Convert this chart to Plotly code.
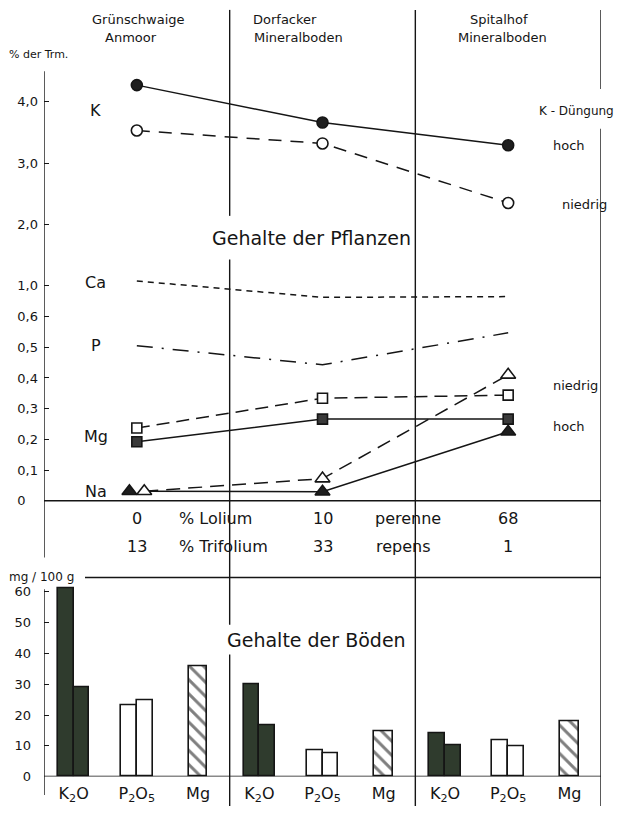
import numpy as np
import plotly.graph_objects as go

W, H = 618, 814
FONT = "DejaVu Sans"
INK = "#151515"

# ---------------- data ----------------
sites = ["Grünschwaige", "Dorfacker", "Spitalhof"]
site_sub = ["Anmoor", "Mineralboden", "Mineralboden"]

k_hoch = [4.27, 3.66, 3.29]
k_niedrig = [3.53, 3.32, 2.35]
ca = [1.08, 0.85, 0.86]
p = [0.505, 0.443, 0.547]
mg_niedrig = [0.237, 0.334, 0.344]
mg_hoch = [0.192, 0.266, 0.266]
na_niedrig = [0.031, 0.072, 0.41]
na_hoch = [0.031, 0.029, 0.225]

lolium = [0, 10, 68]
trifolium = [13, 33, 1]

k2o_a = [61, 30, 14]
k2o_b = [29, 16.7, 10.1]
p2o5_a = [23, 8.7, 11.8]
p2o5_b = [24.9, 7.6, 9.7]
mg_soil = [35.9, 14.6, 17.9]

top_ticks = [0, 0.1, 0.2, 0.3, 0.4, 0.5, 0.6, 1.0, 2.0, 3.0, 4.0]
top_ticktext = ["0\u00a0\u00a0\u00a0", "0,1", "0,2", "0,3", "0,4", "0,5", "0,6", "1,0", "2,0", "3,0", "4,0"]
bot_ticks = [0, 10, 20, 30, 40, 50, 60]
soil_labels = ["K<sub>2</sub>O", "P<sub>2</sub>O<sub>5</sub>", "Mg"]

# ---------------- scale helpers ----------------
def T(v):
    """broken y scale of the plant panel: 0-0.6 linear, 0.6-1.0 compressed, 1-4 compressed"""
    v = np.asarray(v, dtype=float)
    out = np.interp(v, [0, 0.6, 1.0, 4.0], [0, 6, 7, 13])
    return np.where(v > 4.0, 13 + (v - 4.0) * 2.0, out)

def py(pix):
    return 1 - pix / H

def pxx(pix):
    return pix / W

xs = np.arange(len(sites))

# pixel geometry
ZERO_PX, UNIT_PX = 505.7, 31.0
TOP_BOTTOM_PX = 570
B0_PX, B_UNIT = 784.3, 3.11
B_TOP_PX = 583

fig = go.Figure()

# ---------------- plant panel ----------------
def line_trace(y, dash, symbol=None, fill=None, xoff=None, size=10):
    x = xs if xoff is None else xs + np.asarray(xoff)
    mode = "lines+markers" if symbol else "lines"
    tr = go.Scatter(x=x, y=T(y), mode=mode, xaxis="x", yaxis="y",
                    line=dict(color=INK, width=1.5, dash=dash), showlegend=False,
                    hoverinfo="skip")
    if symbol:
        tr.marker = dict(symbol=symbol, size=size, color=fill,
                         line=dict(color=INK, width=1.6))
    return tr

fig.add_trace(line_trace(ca, "6px,5px"))
fig.add_trace(line_trace(p, "16px,9px,2px,9px"))
fig.add_trace(line_trace(k_niedrig, "13px,9px", "circle", "white", size=11))
fig.add_trace(line_trace(k_hoch, "solid", "circle", "#1e1e1e", size=11))
fig.add_trace(line_trace(mg_niedrig, "13px,7px", "square", "white"))
fig.add_trace(line_trace(mg_hoch, "solid", "square", "#3a3a3a"))
# Na: lines start at the open triangle, filled triangle shifted left at first site
na_off_open = [0.04, 0, 0]
na_off_fill = [-0.04, 0, 0]
fig.add_trace(go.Scatter(x=xs + np.array(na_off_open), y=T(na_hoch), mode="lines",
                         line=dict(color=INK, width=1.5), showlegend=False, hoverinfo="skip"))
fig.add_trace(line_trace(na_niedrig, "14px,8px", "triangle-up", "white", xoff=na_off_open, size=13))
fig.add_trace(go.Scatter(x=xs + np.array(na_off_fill), y=T(na_hoch), mode="markers",
                         marker=dict(symbol="triangle-up", size=13, color="#1e1e1e",
                                     line=dict(color=INK, width=1.5)),
                         showlegend=False, hoverinfo="skip"))

# ---------------- soil panel ----------------
off_k, off_p, off_m = -0.34, 0.0, 0.33
bw, bwm = 0.085, 0.10
DARK = "#2f3b2d"

def bars(vals, offs, color, width, pattern=None):
    return go.Bar(x=xs + offs, y=vals, width=width, xaxis="x2", yaxis="y2",
                  marker=dict(color=color, line=dict(color=INK, width=1.6),
                              pattern=pattern),
                  showlegend=False, hoverinfo="skip")

fig.add_trace(bars(k2o_a, off_k - bw / 2, DARK, bw))
fig.add_trace(bars(k2o_b, off_k + bw / 2, DARK, bw))
fig.add_trace(bars(p2o5_a, off_p - bw / 2, "white", bw))
fig.add_trace(bars(p2o5_b, off_p + bw / 2, "white", bw))
fig.add_trace(bars(mg_soil, off_m, "white", bwm,
                   pattern=dict(shape="\\", size=10, solidity=0.3, fgcolor="#000000",
                                bgcolor="white", fillmode="overlay")))

soil_tickvals = [x + o for x in xs for o in (off_k, off_p, off_m)]
soil_ticktext = soil_labels * len(sites)

# ---------------- axes ----------------
xr = [-0.5, 2.5]
xdom = [44 / W, 601 / W]
top_range = [-(TOP_BOTTOM_PX - ZERO_PX) / UNIT_PX, ZERO_PX / UNIT_PX]
bot_range = [0, (B0_PX - B_TOP_PX) / B_UNIT]
tf = dict(size=13, family=FONT, color=INK)

fig.update_layout(
    width=W, height=H, margin=dict(l=0, r=0, t=0, b=0),
    paper_bgcolor="white", plot_bgcolor="rgba(0,0,0,0)",
    font=dict(family=FONT, color=INK, size=13),
    barmode="overlay", bargap=0,
    xaxis=dict(domain=xdom, range=xr, visible=False, anchor="y"),
    yaxis=dict(domain=[py(TOP_BOTTOM_PX), 1], range=top_range, showgrid=False, zeroline=False,
               showline=False, tickmode="array", tickvals=T(top_ticks).tolist(),
               ticktext=top_ticktext, ticks="inside", ticklen=5, tickwidth=1.4, tickcolor=INK,
               ticklabelstandoff=5, tickfont=tf, anchor="x"),
    xaxis2=dict(domain=xdom, range=xr, anchor="y2", showgrid=False, zeroline=False,
                showline=False, tickmode="array", tickvals=soil_tickvals,
                ticktext=soil_ticktext, ticks="", tickfont=dict(size=16, family=FONT, color=INK),
                ticklabelstandoff=5),
    yaxis2=dict(domain=[py(B0_PX), py(B_TOP_PX)], range=bot_range, showgrid=False,
                zeroline=False, showline=False, tickmode="array", tickvals=bot_ticks,
                ticktext=[str(t) for t in bot_ticks],
                ticks="inside", ticklen=5, tickwidth=1.4, tickcolor=INK,
                ticklabelstandoff=12, tickfont=tf, anchor="x2"),
)

# ---------------- frame lines ----------------
shapes = []
def vline(xd, y0p, y1p):
    shapes.append(dict(type="line", xref="x", yref="paper", x0=xd, x1=xd,
                       y0=py(y0p), y1=py(y1p), line=dict(color=INK, width=1.4)))

vline(-0.5, 72, 563)
vline(-0.5, 595, 803)
vline(0.5, 10, 218)
vline(0.5, 262, 631)
vline(0.5, 661, 814)
vline(1.5, 10, 814)
vline(2.5, 10, 90)
vline(2.5, 130, 814)
shapes.append(dict(type="line", xref="x", yref="y", x0=-0.5, x1=2.5, y0=0, y1=0,
                   line=dict(color=INK, width=1.7)))
shapes.append(dict(type="line", xref="paper", yref="paper", x0=pxx(85), x1=pxx(601),
                   y0=py(583.3), y1=py(583.3), line=dict(color=INK, width=1.4)))
shapes.append(dict(type="line", xref="x2", yref="y2", x0=-0.5, x1=2.5, y0=0, y1=0,
                   line=dict(color=INK, width=1.7)))
fig.update_layout(shapes=shapes)

# ---------------- text ----------------
ann = []
def txt(s, xp, yp, size=13, anchor="center"):
    ann.append(dict(text=s, x=pxx(xp), y=py(yp), xref="paper", yref="paper",
                    xanchor=anchor, yanchor="middle", showarrow=False,
                    font=dict(size=size, family=FONT, color=INK)))

txt(sites[0], 138, 20); txt(site_sub[0], 131, 38)
txt(sites[1], 251, 20, anchor="left"); txt(site_sub[1], 252, 38, anchor="left")
txt(sites[2], 499, 20); txt(site_sub[2], 502, 38)
txt("% der Trm.", 7, 55, size=11, anchor="left")
for lab, yy in [("K", 111.7), ("Ca", 285), ("P", 349), ("Mg", 441), ("Na", 496)]:
    txt(lab, 96, yy, size=16)
txt("K - Düngung", 537, 112, size=12, anchor="left")
txt("hoch", 551, 147, anchor="left")
txt("niedrig", 560, 207, anchor="left")
txt("niedrig", 551, 389, anchor="left")
txt("hoch", 551, 431, anchor="left")
txt("Gehalte der Pflanzen", 311, 240, size=19)
txt("Gehalte der Böden", 316, 646, size=19)
txt("mg / 100 g", 7, 583, size=12, anchor="left")

for i in range(len(sites)):
    ann.append(dict(text=str(lolium[i]), x=xs[i], y=-(524 - ZERO_PX) / UNIT_PX, xref="x", yref="y",
                    showarrow=False, font=dict(size=16, family=FONT, color=INK)))
    ann.append(dict(text=str(trifolium[i]), x=xs[i], y=-(551.7 - ZERO_PX) / UNIT_PX, xref="x", yref="y",
                    showarrow=False, font=dict(size=16, family=FONT, color=INK)))
txt("% Lolium", 177, 524, size=16, anchor="left")
txt("perenne", 373, 524, size=16, anchor="left")
txt("% Trifolium", 177, 552, size=16, anchor="left")
txt("repens", 374, 552, size=16, anchor="left")

fig.update_layout(annotations=ann)
fig.write_html("out.html")
